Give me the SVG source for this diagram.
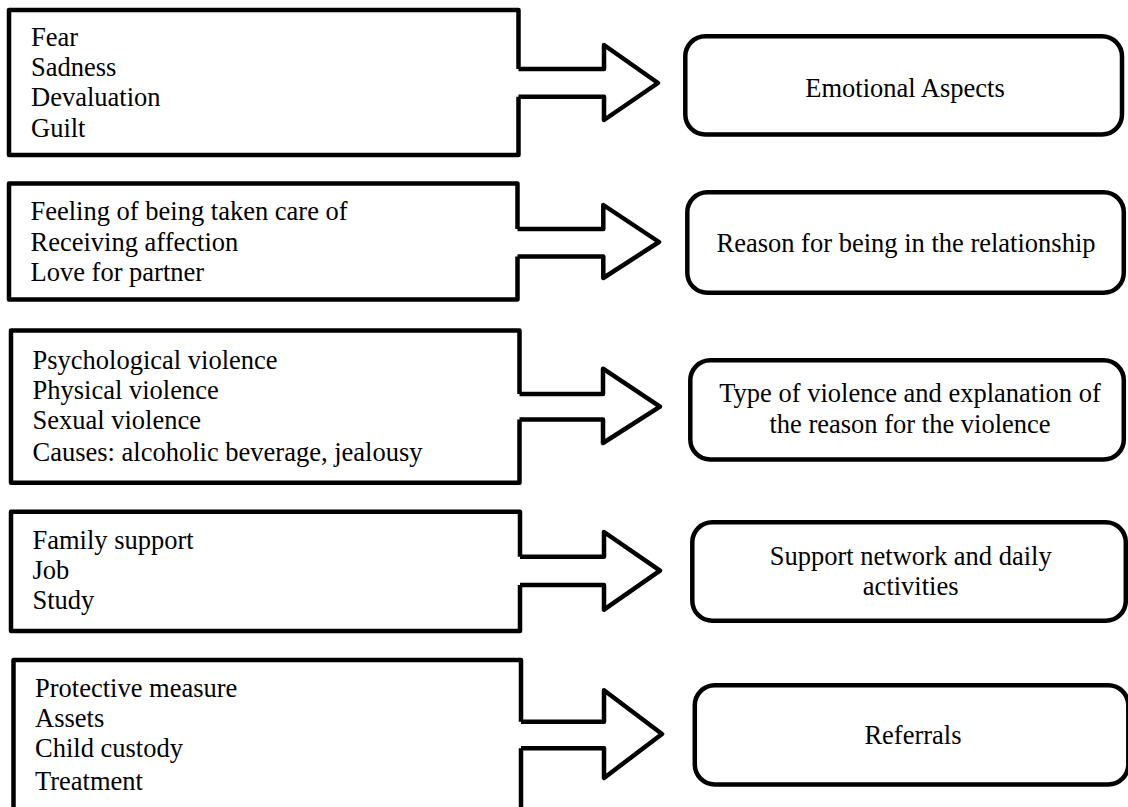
<svg xmlns="http://www.w3.org/2000/svg" width="1128" height="807" viewBox="0 0 1128 807">
<style>
.ln{fill:none;stroke:#000;stroke-width:4.5;stroke-linejoin:round;stroke-linecap:butt}
.rb{fill:#fff;stroke:#000;stroke-width:4.5}
text{font-family:"Liberation Serif","Times New Roman",serif;font-size:26.5px;fill:#000}
.c{text-anchor:middle}
</style>
<rect width="1128" height="807" fill="#fff"/>
<g id="connectors">
<path class="ln" d="M518.5,69 H604 V45 L658,83 L604,120 V96.7 H518.5"/>
<path class="ln" d="M517.5,229 H603.3 V205 L659,242 L603.3,278 V256.5 H517.5"/>
<path class="ln" d="M519.5,394 H603 V368.7 L660,406.7 L603,443 V419.5 H519.5"/>
<path class="ln" d="M520,556.7 H604 V532 L660,570.7 L604,609.7 V585 H520"/>
<path class="ln" d="M521,721.7 H604 V690.3 L662,734 L604,778 V748.3 H521"/>
</g>
<g id="left1">
<path class="ln" d="M518.5,69 V10 H9 V155 H518.5 V96.7"/>
<text x="31" y="45.7">Fear</text>
<text x="31" y="75.8">Sadness</text>
<text x="31" y="106">Devaluation</text>
<text x="31" y="136.5">Guilt</text>
</g>
<g id="left2">
<path class="ln" d="M517.5,229 V183.5 H9 V299.5 H517.5 V256.5"/>
<text x="30.5" y="220">Feeling of being taken care of</text>
<text x="30.5" y="250.5">Receiving affection</text>
<text x="30.5" y="280.7">Love for partner</text>
</g>
<g id="left3">
<path class="ln" d="M519.5,394 V330.5 H11 V482.7 H519.5 V419.5"/>
<text x="32.5" y="369">Psychological violence</text>
<text x="32.5" y="399">Physical violence</text>
<text x="32.5" y="429.3">Sexual violence</text>
<text x="32.5" y="461">Causes: alcoholic beverage, jealousy</text>
</g>
<g id="left4">
<path class="ln" d="M520,556.7 V511.7 H11 V631 H520 V585"/>
<text x="32.5" y="549">Family support</text>
<text x="32.5" y="579.3">Job</text>
<text x="32.5" y="609.3">Study</text>
</g>
<g id="left5">
<path class="ln" d="M521,721.7 V660 H13.5 V815 M521,815 V748.3"/>
<text x="35" y="696.7">Protective measure</text>
<text x="35" y="727.3">Assets</text>
<text x="35" y="757.3">Child custody</text>
<text x="35" y="790">Treatment</text>
</g>
<g id="right1">
<rect class="rb" x="685.3" y="36.3" width="436.7" height="98.2" rx="20"/>
<text class="c" x="905" y="96.5">Emotional Aspects</text>
</g>
<g id="right2">
<rect class="rb" x="687.3" y="192.3" width="436.5" height="100.5" rx="20"/>
<text class="c" x="906" y="251.5">Reason for being in the relationship</text>
</g>
<g id="right3">
<rect class="rb" x="690.3" y="360.3" width="433.5" height="99.2" rx="20"/>
<text class="c" x="910" y="401.7">Type of violence and explanation of</text>
<text class="c" x="910" y="433.3">the reason for the violence</text>
</g>
<g id="right4">
<rect class="rb" x="692.3" y="522.3" width="433.5" height="98.5" rx="20"/>
<text class="c" x="910.7" y="565">Support network and daily</text>
<text class="c" x="910.7" y="595">activities</text>
</g>
<g id="right5">
<rect class="rb" x="694.8" y="685.3" width="433.5" height="99.2" rx="20"/>
<text class="c" x="913" y="744.3">Referrals</text>
</g>
</svg>
